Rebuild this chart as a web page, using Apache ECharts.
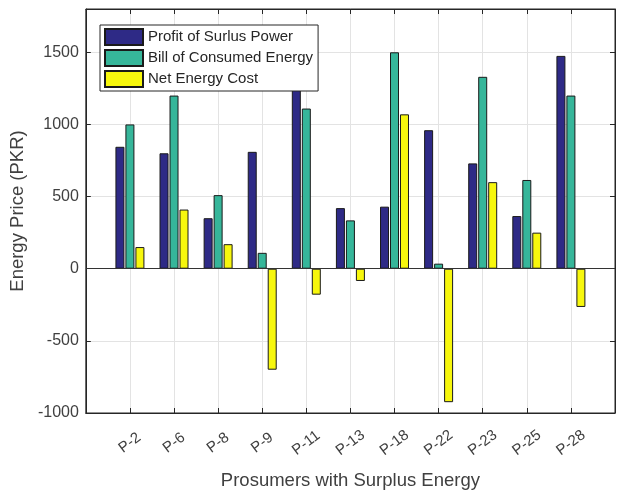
<!DOCTYPE html>
<html>
<head>
<meta charset="utf-8">
<script src="https://cdn.jsdelivr.net/npm/echarts@6/dist/echarts.min.js"></script>
<style>html,body{margin:0;padding:0;background:#fff}#c{width:624px;height:495px}</style>
</head>
<body>
<div id="c"></div>
<script>
const categories = ['P-2','P-6','P-8','P-9','P-11','P-13','P-18','P-22','P-23','P-25','P-28'];
const profitSurplus = [845, 800, 350, 810, 1290, 420, 430, 960, 730, 365, 1475];
const billConsumed = [1000, 1200, 510, 110, 1110, 335, 1500, 35, 1330, 615, 1200];
const netCost = [150, 410, 170, -700, -180, -85, 1070, -925, 600, 250, -265];
const yTicks = [-1000, -500, 0, 500, 1000, 1500];
const seriesNames = ['Profit of Surlus Power','Bill of Consumed Energy','Net Energy Cost'];

// pad categories with blank slots at both ends (axis runs 0..12 like the original)
const cats = [''].concat(categories, ['']);
const pad = arr => [null].concat(arr, [null]);
const realTick = (i) => i > 0 && i < cats.length - 1;

const chart = echarts.init(document.getElementById('c'), null, {renderer: 'canvas'});
const font = 'Liberation Sans, Arial, Helvetica, sans-serif';
const frame = '#262626';
const colors = ['#2e2a86', '#36b69a', '#f7f70d'];

const mkSeries = (name, data, i) => ({
  name: name, type: 'bar', data: pad(data),
  xAxisIndex: 0, yAxisIndex: 0,
  barWidth: 9, barGap: '11%',
  itemStyle: {color: colors[i], borderColor: '#1a1a1a', borderWidth: 1},
  emphasis: {disabled: true}
});

const series = [
  mkSeries(seriesNames[0], profitSurplus, 0),
  mkSeries(seriesNames[1], billConsumed, 1),
  mkSeries(seriesNames[2], netCost, 2)
];
series[0].markLine = {
  silent: true, symbol: 'none', label: {show: false},
  lineStyle: {color: '#333', width: 1, type: 'solid'},
  data: [{yAxis: 0}]
};

chart.setOption({
  animation: false,
  backgroundColor: '#fff',
  grid: {left: 84, right: 9, top: 9, bottom: 78, show: true, borderColor: frame, borderWidth: 1, backgroundColor: 'transparent'},
  legend: {
    orient: 'vertical', left: 100, top: 25,
    itemWidth: 38, itemHeight: 16, itemGap: 3,
    padding: [3, 5, 3, 4],
    backgroundColor: '#fff', borderColor: frame, borderWidth: 1,
    textStyle: {fontFamily: font, fontSize: 15, color: '#262626'},
    icon: 'rect',
    data: seriesNames
  },
  xAxis: [{
    type: 'category', data: cats, boundaryGap: false,
    axisLine: {show: true, onZero: false, lineStyle: {color: frame}},
    axisTick: {show: true, inside: true, length: 5, interval: (i) => realTick(i), lineStyle: {color: frame}},
    axisLabel: {interval: 0, rotate: 37, align: 'center', verticalAlign: 'middle',
      fontFamily: font, fontSize: 15, color: '#404040', margin: 30, formatter: v => v},
    splitLine: {show: true, interval: (i) => realTick(i), lineStyle: {color: '#e3e3e3', width: 1}},
    name: 'Prosumers with Surplus Energy', nameLocation: 'middle', nameGap: 58,
    nameTextStyle: {fontFamily: font, fontSize: 18.5, color: '#404040'}
  }, {
    type: 'category', data: cats, boundaryGap: false, position: 'top',
    axisLine: {show: true, onZero: false, lineStyle: {color: frame}},
    axisTick: {show: true, inside: true, length: 5, interval: (i) => realTick(i), lineStyle: {color: frame}},
    axisLabel: {show: false}, splitLine: {show: false}
  }],
  yAxis: [{
    type: 'value', min: -1000, max: 1800, interval: 500,
    axisLine: {show: true, lineStyle: {color: frame}},
    axisTick: {show: true, inside: true, length: 5, lineStyle: {color: frame}},
    axisLabel: {fontFamily: font, fontSize: 16, color: '#404040', margin: 7, showMaxLabel: false,
      formatter: v => String(v)},
    splitLine: {show: true, lineStyle: {color: '#e3e3e3', width: 1}},
    name: 'Energy Price (PKR)', nameLocation: 'middle', nameGap: 56,
    nameTextStyle: {fontFamily: font, fontSize: 18.5, color: '#404040'}
  }, {
    type: 'value', min: -1000, max: 1800, interval: 500, position: 'right',
    axisLine: {show: true, lineStyle: {color: frame}},
    axisTick: {show: true, inside: true, length: 5, lineStyle: {color: frame}},
    axisLabel: {show: false}, splitLine: {show: false}
  }],
  series: series
});
</script>
</body>
</html>
